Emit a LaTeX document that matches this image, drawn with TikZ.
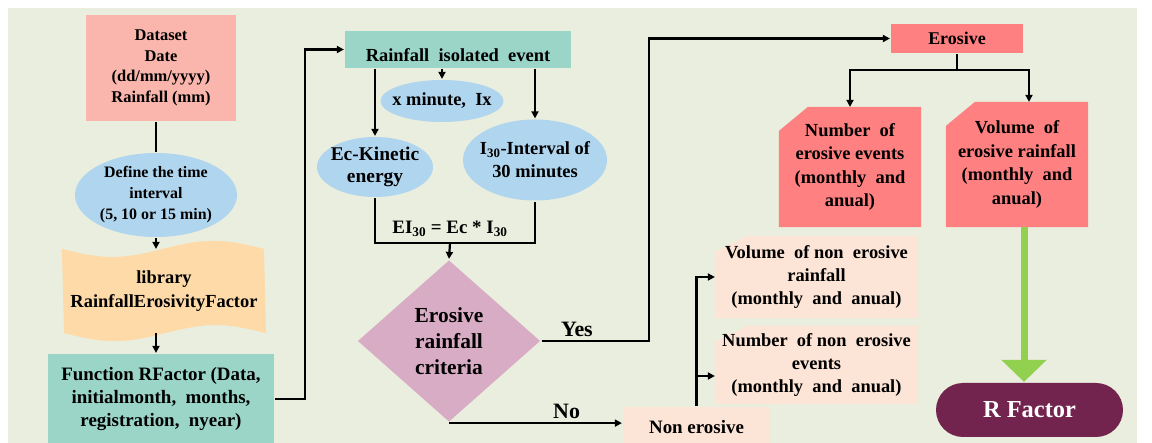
\documentclass[tikz,border=0pt]{standalone}
\usepackage{fontspec}
\setmainfont{Liberation Serif}
\usetikzlibrary{arrows.meta,shapes.geometric,backgrounds,positioning}

\definecolor{bgc}{RGB}{234,238,222}
\definecolor{pinkc}{RGB}{250,182,173}
\definecolor{bluec}{RGB}{176,213,238}
\definecolor{peachc}{RGB}{253,218,168}
\definecolor{tealc}{RGB}{154,213,200}
\definecolor{mauvec}{RGB}{216,172,196}
\definecolor{redc}{RGB}{255,128,128}
\definecolor{lpeachc}{RGB}{252,228,214}
\definecolor{greenc}{RGB}{146,208,80}
\definecolor{winec}{RGB}{114,36,78}

\newcommand{\fsz}[2]{\fontsize{#1}{#2}\selectfont\bfseries}

\tikzstyle{rbox} = [rectangle, inner sep=0pt, align=center]
\tikzstyle{ell} = [ellipse, fill=bluec, inner xsep=-24bp, inner ysep=-6bp, align=center]
\tikzstyle{lbl} = [font=\fsz{19}{22}]
\tikzstyle{yn} = [font=\fsz{22}{26}, above]
\tikzstyle{garrow} = [-{Triangle[length=22bp,width=44bp]}, line width=7bp, draw=greenc]

\begin{document}
\begin{tikzpicture}[->,>={Triangle[length=7bp,width=7bp]},line width=2.2bp,
                    x=1bp,y=-1bp]

  \useasboundingbox (0,0) rectangle (1152,443);

  % left column
  \node[rbox, fill=pinkc, minimum width=150bp, minimum height=106bp,
        font=\fsz{16.5}{20.5}] (data) at (161,68) {Dataset\\Date\\(dd/mm/yyyy)\\Rainfall (mm)};
  \node[ell, minimum width=162bp, minimum height=84bp,
        font=\fsz{16}{21}] (time) at (156,195) {Define the time\\interval\\(5, 10 or 15 min)};
  \node[rbox, minimum width=202bp, minimum height=82bp,
        font=\fsz{18.5}{24}] (lib) at (164,291) {library\\RainfallErosivityFactor};
  \node[rbox, fill=tealc, minimum width=226bp, minimum height=90bp,
        font=\fsz{19}{23}] (func) at (161,399) {Function RFactor (Data,\\initialmonth,~ months,\\registration,~ nyear)};

  % middle
  \node[rbox, fill=tealc, minimum width=226bp, minimum height=37bp, text height=25bp,
        text depth=0pt, font=\fsz{18.5}{22}] (event) at (458,49.5) {Rainfall~ isolated~ event};
  \node[ell, minimum width=123bp, minimum height=42bp,
        font=\fsz{18.5}{21}] (xmin) at (442,101) {x minute,~ Ix};
  \node[ell, minimum width=116bp, minimum height=60bp,
        font=\fsz{19.5}{22}] (ec) at (375,167) {Ec-Kinetic\\energy};
  \node[ell, minimum width=144bp, minimum height=81bp,
        font=\fsz{18.5}{23}] (i30) at (535,160) {I\textsubscript{30}-Interval of\\30 minutes};
  \coordinate (join) at (450,243);
  \node[lbl] (eq) at (450,229) {EI\textsubscript{30} = Ec * I\textsubscript{30}};
  \node[diamond, fill=mauvec, aspect=1.13, inner sep=0pt, minimum width=183bp,
        minimum height=162bp, align=center, font=\fsz{21.5}{26}] (crit) at (449,341) {Erosive\\rainfall\\criteria};

  % non erosive
  \node[rbox, fill=lpeachc, minimum width=147bp, minimum height=40bp,
        font=\fsz{19}{22}] (non) at (696.5,427) {Non erosive};
  \node[rbox, minimum width=201bp, minimum height=80bp,
        font=\fsz{18.5}{23.5}] (vnon) at (816.5,277) {Volume~ of non~ erosive\\rainfall\\(monthly~ and~ anual)};
  \node[rbox, minimum width=201bp, minimum height=76bp,
        font=\fsz{18.5}{23.5}] (nnon) at (816.5,365) {Number~ of non~ erosive\\events\\(monthly~ and~ anual)};

  % erosive
  \node[rbox, fill=redc, minimum width=132bp, minimum height=29bp,
        font=\fsz{18}{22}] (ero) at (957,38.5) {Erosive};
  \coordinate (split) at (957,70);
  \node[rbox, minimum width=140bp, minimum height=118bp,
        font=\fsz{18.5}{23.5}] (nev) at (850,167) {Number~ of\\erosive events\\(monthly~ and\\anual)};
  \node[rbox, minimum width=140bp, minimum height=123bp,
        font=\fsz{18.5}{23.5}] (ver) at (1017,164.5) {Volume~ of\\erosive rainfall\\(monthly~ and\\anual)};
  \node[rbox, fill=winec, rounded corners=27bp, minimum width=187bp, minimum height=54bp,
        text=white, font=\fsz{24.5}{28}] (rf) at (1029.5,410) {R Factor};

  % shapes behind the text
  \begin{scope}[on background layer, -]
    \fill[bgc] (8,8) rectangle (1137,443);
    \fill[peachc] (lib.north west) sin ++(50.5,8) cos ++(50.5,-8) sin ++(50.5,-8) cos ++(50.5,8)
      -- (lib.south east) sin ++(-50.5,-8) cos ++(-50.5,8) sin ++(-50.5,8) cos ++(-50.5,-8) -- cycle;
    \foreach \n/\c/\dx/\dy in {nev/redc/29/24, ver/redc/29/24, vnon/lpeachc/32/16, nnon/lpeachc/32/16}
      \fill[\c] (\n.south west) -- ([yshift=-\dy bp]\n.north west) -- ([xshift=\dx bp]\n.north west)
        -- (\n.north east) -- (\n.south east) -- cycle;
  \end{scope}

  % connectors
  \draw[-] (time.north |- data.south) -- (time.north);
  \draw (time.south) -- (time.south |- lib.north);
  \draw (time.south |- lib.south) -- (time.south |- func.north);
  \draw (func.east) -- ++(30,0) |- (event.west);
  \draw (event.south -| ec.north) -- (ec.north);
  \draw (event.south -| xmin.north) -- (xmin.north);
  \draw (event.south -| i30.north) -- (i30.north);
  \draw[-] (ec.south) |- (join) -| (i30.south);
  \draw (join) -- (crit.north);
  \draw (crit.east) -- node[yn, pos=0.33] {Yes} ++(107,0) |- (ero.west);
  \draw (crit.south) -- node[yn, pos=0.68] {No} (crit.south -| non.west);
  \draw (non.north) |- (vnon.west);
  \draw (non.north) |- ([yshift=-11bp]nnon.west);
  \draw[-] (ero.south) -- (split);
  \draw (split) -| (nev.north);
  \draw (split) -| ([xshift=12bp]ver.north);
  \draw[garrow] ([xshift=7bp]ver.south) -- ([xshift=7bp]ver.south |- rf.north);
\end{tikzpicture}
\end{document}
